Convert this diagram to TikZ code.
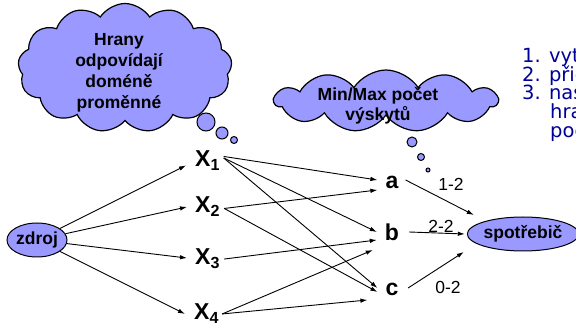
\documentclass[tikz,border=0pt]{standalone}
\usepackage{fontspec}
\setmainfont{Liberation Sans}
\newfontfamily\tahoma{DejaVu Sans}
\usetikzlibrary{shapes.symbols,shapes.geometric,arrows.meta}
\definecolor{cfill}{HTML}{9999FF}
\definecolor{navytext}{HTML}{000099}
\begin{document}
\begin{tikzpicture}[x=1pt,y=-1pt,
  cloudbox/.style={cloud, cloud puffs=13, cloud puff arc=115, cloud ignores aspect, draw=black, line width=1.2pt, fill=cfill, inner sep=0pt},
  bubble/.style={circle, draw=black, line width=1pt, fill=cfill, inner sep=0pt},
  ovalbox/.style={ellipse, draw=black, line width=1pt, fill=cfill, inner sep=0pt, font=\bfseries\fontsize{17.5}{21}\selectfont},
  cloudtext/.style={align=center, font=\bfseries\fontsize{17.5}{21}\selectfont, inner sep=0pt},
  var/.style={font=\bfseries\fontsize{23}{26}\selectfont, inner sep=0pt},
  val/.style={font=\bfseries\fontsize{23}{26}\selectfont, inner ysep=0pt, inner xsep=8pt},
  edgelabel/.style={font=\fontsize{17.5}{21}\selectfont, inner sep=0pt},
  note/.style={font=\tahoma\fontsize{19.5}{19}\selectfont, text=navytext, inner sep=0pt, anchor=base west},
  arr/.style={-{Latex[length=7pt,width=4.5pt]}, line width=0.9pt},
]
\useasboundingbox (0,0) rectangle (576,328);
\clip (0,0) rectangle (576,328);

% clouds and thought bubbles
\node[cloudbox, minimum width=214pt, minimum height=129pt] (cl1) at (125,68) {};
\node[cloudtext] (t1) at (119,73) {Hrany\\odpovídají\\doméně\\proměnné};
\node[bubble, minimum size=18pt] (b1) at (206,122) {};
\node[bubble, minimum size=12pt] (b2) at (222,133) {};
\node[bubble, minimum size=7pt] (b3) at (234,140) {};

\node[cloudbox, cloud puffs=11, minimum width=223pt, minimum height=62pt] (cl2) at (386,101) {};
\node[cloudtext, font=\bfseries\fontsize{17.5}{20}\selectfont] (t2) at (378,106) {Min/Max počet\\výskytů};
\node[bubble, minimum size=10pt] (b4) at (412,142) {};
\node[bubble, minimum size=7pt] (b5) at (421,157) {};
\node[bubble, minimum size=4pt] (b6) at (428,170) {};

% right-hand text (cut off by the picture's right edge, as in the original)
\node[note] (r1) at (522,63) {1. vyt};
\node[note] (r2) at (522,81.5) {2. přid};
\node[note] (r3) at (522,100) {3. nas};
\node[note] (r4) at (550,119) {hra};
\node[note] (r5) at (550,138) {poč};

% nodes
\node[ovalbox, minimum width=60pt, minimum height=34pt] (zdroj) at (37,240) {zdroj};
\node[ovalbox, minimum width=110pt, minimum height=34pt] (spot) at (523,234) {spotřebič};

\node[var, anchor=base west] (x1) at (195,167) {X\textsubscript{1}};
\node[var, anchor=base west] (x2) at (195,213) {X\textsubscript{2}};
\node[var, anchor=base west] (x3) at (195,265) {X\textsubscript{3}};
\node[var, anchor=base west] (x4) at (194,320) {X\textsubscript{4}};

\node[val] (a) at (392,182) {a};
\node[val] (b) at (392,232) {b};
\node[val] (c) at (392,289) {c};

% source edges
\draw[arr] (zdroj) -- ([shift={(-9pt,-4.5pt)}]x1.west);
\draw[arr] (zdroj) -- ([shift={(-8pt,0pt)}]x2.west);
\draw[arr] (zdroj) -- ([shift={(-8pt,1pt)}]x3.west);
\draw[arr] (zdroj) -- ([shift={(-9pt,0pt)}]x4.west);

% variable-value edges
\draw[arr] ([shift={(3.5pt,4.5pt)}]x1.east) -- ([yshift=2pt]a.west);
\draw[arr] ([shift={(3.5pt,3pt)}]x1.east) -- (b.west);
\draw[arr] ([shift={(3.5pt,3pt)}]x1.east) -- ([yshift=1pt]c.west);
\draw[arr] ([shift={(4pt,-1.5pt)}]x2.east) -- ([yshift=-8pt]a.west);
\draw[arr] ([shift={(4pt,-1.5pt)}]x2.east) -- ([yshift=-3pt]c.west);
\draw[arr] ([shift={(4pt,0pt)}]x3.east) -- ([yshift=-8pt]b.west);
\draw[arr] ([shift={(3pt,0pt)}]x4.east) -- ([shift={(-4pt,-18pt)}]b.west);
\draw[arr] ([shift={(3pt,0pt)}]x4.east) -- ([shift={(-10pt,-11pt)}]c.west);

% value-sink edges
\draw[arr] ([shift={(-1pt,2pt)}]a.east) -- ([shift={(7pt,19pt)}]spot.west);
\draw[arr] ([xshift=2pt]b.east) -- ([xshift=-2pt]spot.west);
\draw[arr] ([shift={(1.5pt,1pt)}]c.east) -- ([shift={(-3pt,-18pt)}]spot.west);

\node[edgelabel] (l1) at (451,184) {1-2};
\node[edgelabel] (l2) at (441,226) {2-2};
\node[edgelabel] (l3) at (448,287) {0-2};
\end{tikzpicture}
\end{document}
